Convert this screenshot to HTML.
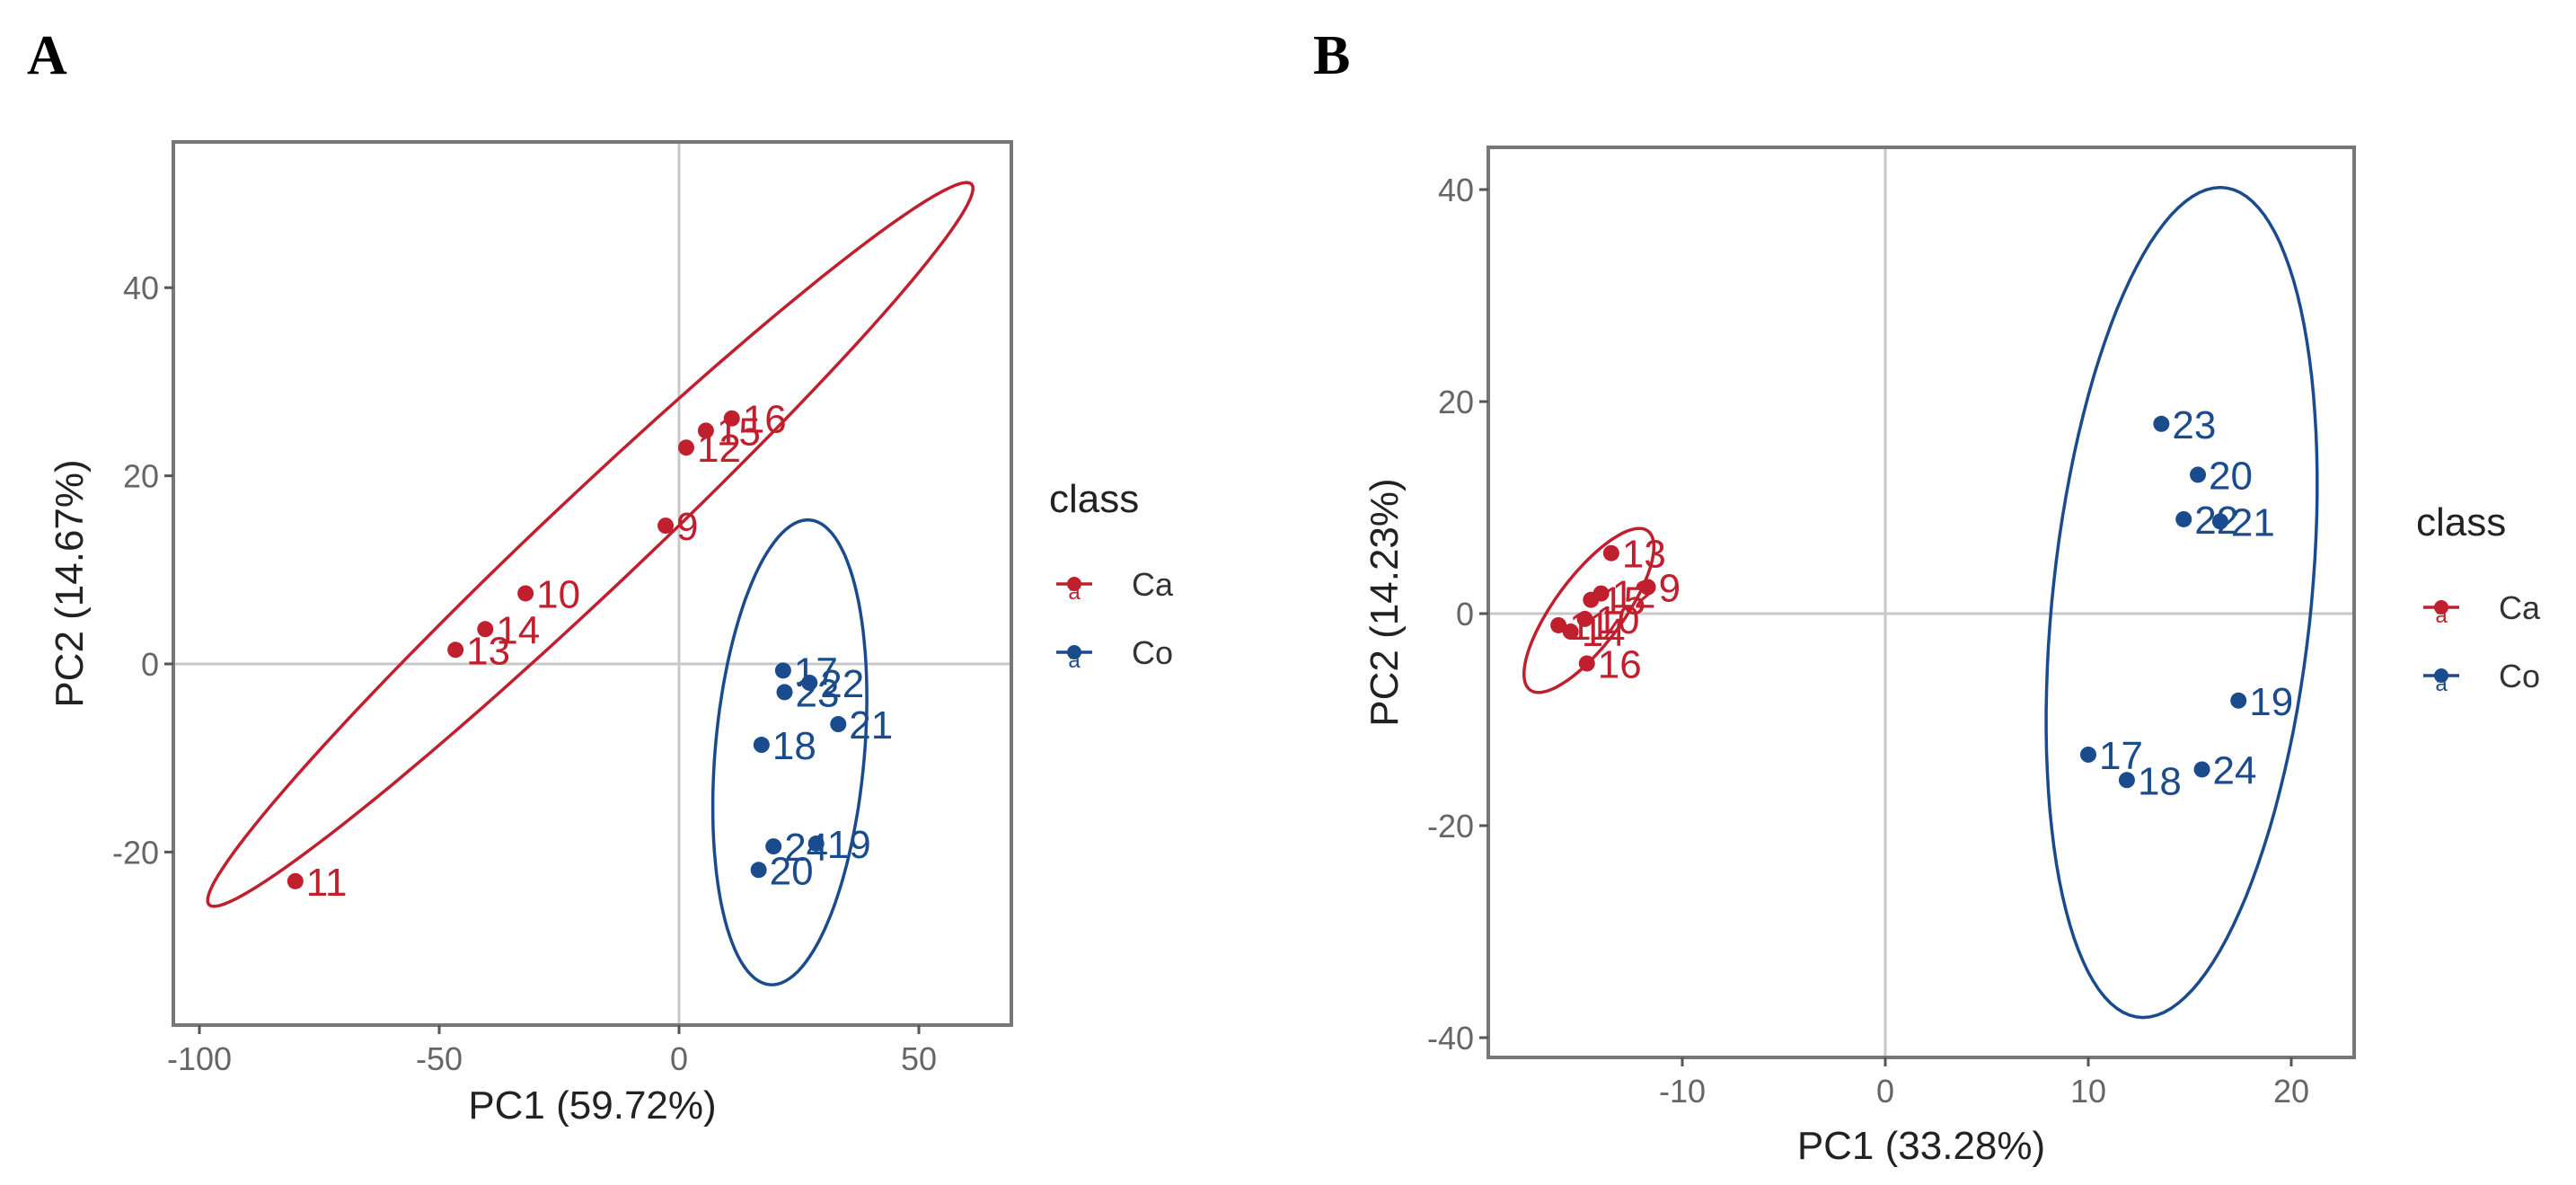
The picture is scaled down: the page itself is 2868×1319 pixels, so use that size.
<!DOCTYPE html>
<html><head><meta charset="utf-8"><style>
html,body{margin:0;padding:0;background:#fff;}
svg{display:block;font-family:"Liberation Sans",sans-serif;}
</style></head><body>
<svg id="fig" width="2868" height="1319" viewBox="0 0 2868 1319">
<text x="30" y="82" font-family="Liberation Serif,serif" font-weight="bold" font-size="62">A</text>
<text x="1462" y="82" font-family="Liberation Serif,serif" font-weight="bold" font-size="62">B</text>
</svg>
<script>
// Panel A data
const aCaLabels = ["11","13","14","10","9","12","15","16"];
const aCaX = [-80, -46.6, -40.4, -32, -2.8, 1.5, 5.6, 11];
const aCaY = [-23.1, 1.5, 3.7, 7.5, 14.7, 23, 24.8, 26.1];
const aCoLabels = ["17","22","23","21","18","24","19","20"];
const aCoX = [21.7, 27.2, 22, 33.2, 17.2, 19.7, 28.6, 16.6];
const aCoY = [-0.7, -2.0, -3.0, -6.4, -8.6, -19.4, -19.1, -21.9];
const aXTicks = [-100, -50, 0, 50];
const aYTicks = [-20, 0, 20, 40];
// ellipses: center, major vector, minor vector (data units)
const aCaEllipse = [-18.5, 12.7, 79.5, 38.3, 6.8, -3.7];
const aCoEllipse = [23.1, -9.4, 4.2, 24.7, 15.5, -0.7];
// Panel B data
const bCaLabels = ["13","12","15","9","10","11","14","16"];
const bCaX = [-13.5, -14.0, -14.5, -11.7, -14.8, -16.1, -15.5, -14.7];
const bCaY = [5.7, 1.9, 1.3, 2.5, -0.5, -1.1, -1.7, -4.7];
const bCoLabels = ["23","20","22","21","19","17","18","24"];
const bCoX = [13.6, 15.4, 14.7, 16.5, 17.4, 10.0, 11.9, 15.6];
const bCoY = [17.9, 13.1, 8.9, 8.7, -8.2, -13.3, -15.7, -14.7];
const bXTicks = [-10, 0, 10, 20];
const bYTicks = [-40, -20, 0, 20, 40];
const bCaEllipse = [-14.6, 0.3, 2.9, 7.5, 1.35, -1.9];
const bCoEllipse = [14.6, 1.05, 1.9, 39.15, 6.4, 0];

const RED = "#c0202e", BLUE = "#1a4b8c";
const NS = "http://www.w3.org/2000/svg";
const svg = document.getElementById("fig");
function mk(tag, attrs, parent){const e=document.createElementNS(NS,tag);for(const k in attrs)e.setAttribute(k,attrs[k]);(parent||svg).appendChild(e);return e;}

function panel(cfg){
  const g = mk("g",{});
  
  
  const sx = v => cfg.x0 + v*cfg.kx;
  const sy = v => cfg.y0 - v*cfg.ky;
  const gx = mk("line",{x1:sx(0),x2:sx(0),y1:cfg.top,y2:cfg.bottom,stroke:"#c8c8c8","stroke-width":3},g);
  
  
  const gy = mk("line",{x1:cfg.left,x2:cfg.right,y1:sy(0),y2:sy(0),stroke:"#c8c8c8","stroke-width":3},g);
  
  
  function ell(p, col, nm){
    let d="";
    for(let i=0;i<=120;i++){const t=i/120*2*Math.PI;
      const x=p[0]+p[2]*Math.cos(t)+p[4]*Math.sin(t);
      const y=p[1]+p[3]*Math.cos(t)+p[5]*Math.sin(t);
      d+=(i?"L":"M")+sx(x).toFixed(1)+","+sy(y).toFixed(1);}
    const e=mk("path",{d:d+"Z",fill:"none",stroke:col,"stroke-width":3.5},g);
    
    
  }
  ell(cfg.caE, RED, "ca-ellipse");
  ell(cfg.coE, BLUE, "co-ellipse");
  function pts(xs, ys, labs, col, grp){
    for(let i=0;i<xs.length;i++){
      const c=mk("circle",{cx:sx(xs[i]),cy:sy(ys[i]),r:9,fill:col},g);
      
      
      const t=mk("text",{x:sx(xs[i])+12,y:sy(ys[i])+16,fill:col,"font-size":44},g);
      t.textContent=labs[i];
      
      
    }
  }
  pts(cfg.caX,cfg.caY,cfg.caL,RED,"ca");
  pts(cfg.coX,cfg.coY,cfg.coL,BLUE,"co");
  const b=mk("rect",{x:cfg.left,y:cfg.top,width:cfg.right-cfg.left,height:cfg.bottom-cfg.top,fill:"none",stroke:"#777","stroke-width":4},g);
  
  
  cfg.xt.forEach(v=>{
    const l=mk("line",{x1:sx(v),x2:sx(v),y1:cfg.bottom,y2:cfg.bottom+10,stroke:"#555","stroke-width":3},g);
    
    
    const t=mk("text",{x:sx(v),y:cfg.bottom+50,"text-anchor":"middle",fill:"#666","font-size":36},g);
    t.textContent=v;
    
    
  });
  cfg.yt.forEach(v=>{
    const l=mk("line",{x1:cfg.left-10,x2:cfg.left,y1:sy(v),y2:sy(v),stroke:"#555","stroke-width":3},g);
    
    
    const t=mk("text",{x:cfg.left-16,y:sy(v)+13,"text-anchor":"end",fill:"#666","font-size":36},g);
    t.textContent=v;
    
    
  });
  const xt=mk("text",{x:(cfg.left+cfg.right)/2,y:cfg.xTitleY,"text-anchor":"middle",fill:"#222","font-size":44},g);
  xt.textContent=cfg.xTitle;
  
  
  const cy=(cfg.top+cfg.bottom)/2;
  const yt=mk("text",{x:cfg.yTitleX,y:cy,"text-anchor":"middle",fill:"#222","font-size":44,transform:"rotate(-90 "+cfg.yTitleX+" "+cy+")"},g);
  yt.textContent=cfg.yTitle;
  
  
  const lt=mk("text",{x:cfg.legX,y:cfg.legY,fill:"#222","font-size":44},g);
  lt.textContent="class";
  
  
  [["Ca",RED],["Co",BLUE]].forEach((e,i)=>{
    const yy=cfg.legY+80+i*76;
    const eg=mk("g",{},g);
    
    
    mk("line",{x1:cfg.legX+8,x2:cfg.legX+48,y1:yy,y2:yy,stroke:e[1],"stroke-width":3.5},eg);
    mk("circle",{cx:cfg.legX+28,cy:yy,r:8,fill:e[1]},eg);
    const a=mk("text",{x:cfg.legX+28,y:yy+17,"text-anchor":"middle",fill:e[1],"font-size":24},eg);
    a.textContent="a";
    const tx=mk("text",{x:cfg.legX+92,y:yy+13,fill:"#333","font-size":36},eg);
    tx.textContent=e[0];
  });
}

panel({name:"panel-a",x0:756,kx:5.34,y0:739,ky:10.47,left:193,right:1126,top:158,bottom:1141,
  caE:aCaEllipse,coE:aCoEllipse,caX:aCaX,caY:aCaY,caL:aCaLabels,coX:aCoX,coY:aCoY,coL:aCoLabels,
  xt:aXTicks,yt:aYTicks,xTitle:"PC1 (59.72%)",yTitle:"PC2 (14.67%)",xTitleY:1245,yTitleX:92,legX:1168,legY:570});
panel({name:"panel-b",x0:2099,kx:22.6,y0:683,ky:11.8,left:1657,right:2621,top:164,bottom:1177,
  caE:bCaEllipse,coE:bCoEllipse,caX:bCaX,caY:bCaY,caL:bCaLabels,coX:bCoX,coY:bCoY,coL:bCoLabels,
  xt:bXTicks,yt:bYTicks,xTitle:"PC1 (33.28%)",yTitle:"PC2 (14.23%)",xTitleY:1290,yTitleX:1556,legX:2690,legY:596});
</script>
</body></html>
